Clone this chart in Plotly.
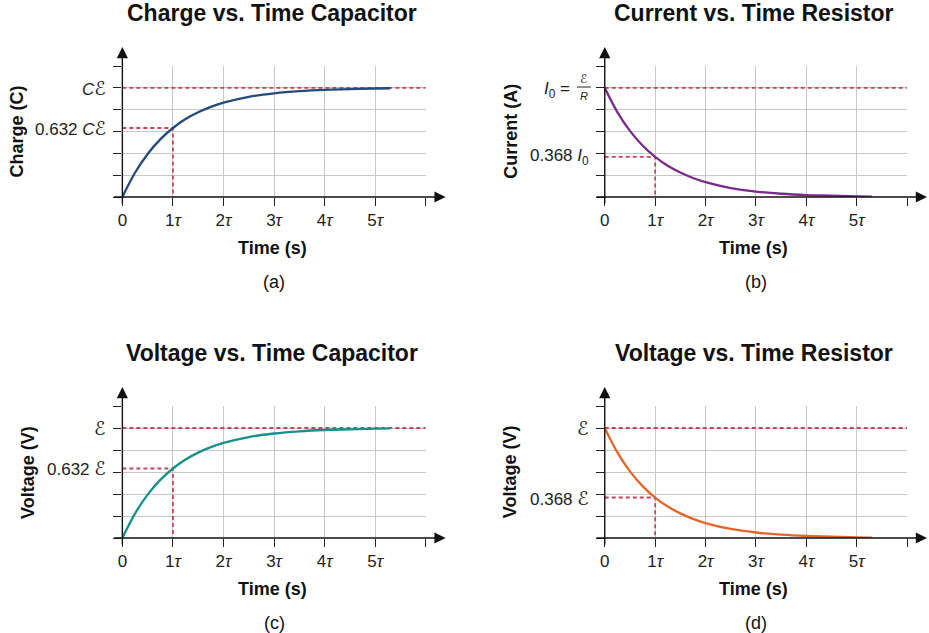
import plotly.graph_objects as go

W, H = 929, 633
FONT = "Liberation Sans, Arial, sans-serif"
RED = "#c94456"
EPS = "<span style='font-family:DejaVu Sans;font-size:19px'>ℰ</span>"
EPS_SMALL = "<span style='font-family:DejaVu Sans;font-size:12px'>ℰ</span>"

# time samples (units of tau)
t_vals = [0, 0.25, 0.5, 0.75, 1, 1.25, 1.5, 1.75, 2, 2.5, 3, 3.5, 4, 4.5, 5, 5.3]
# rising curve (capacitor), full level = 5 grid rows
rise_vals = [0, 1.11, 1.97, 2.64, 3.16, 3.57, 3.88, 4.13, 4.32, 4.59, 4.75, 4.85,
             4.91, 4.94, 4.97, 4.98]
# decaying curve (resistor)
decay_vals = [5, 3.89, 3.03, 2.36, 1.84, 1.43, 1.12, 0.87, 0.68, 0.41, 0.25, 0.15,
              0.09, 0.06, 0.03, 0.02]

full_level = 5.0
tau_mark = 1.0
rise_mark = 3.16   # 0.632 of full
decay_mark = 1.84  # 0.368 of full

tick_vals = [0, 1, 2, 3, 4, 5, 6]
tick_text = ["0", "1<i>τ</i>", "2<i>τ</i>", "3<i>τ</i>", "4<i>τ</i>", "5<i>τ</i>", ""]

panels = [
    dict(title="Charge vs. Time Capacitor", ytitle="Charge (C)", sub="(a)",
         box=(118, 423, 66, 197), ytx=12, color="#234a7a", vals=rise_vals,
         mark=rise_mark, top_lbl="<i>C</i>" + EPS, mark_lbl="0.632 <i>C</i>" + EPS),
    dict(title="Current vs. Time Resistor", ytitle="Current (A)", sub="(b)",
         box=(603, 907, 66, 197), ytx=508, color="#7b2a8c", vals=decay_vals,
         mark=decay_mark, top_lbl=None, mark_lbl="0.368 <i>I</i><sub>0</sub>"),
    dict(title="Voltage vs. Time Capacitor", ytitle="Voltage (V)", sub="(c)",
         box=(118, 423, 406, 538), ytx=23, color="#14918a", vals=rise_vals,
         mark=rise_mark, top_lbl=EPS, mark_lbl="0.632 " + EPS),
    dict(title="Voltage vs. Time Resistor", ytitle="Voltage (V)", sub="(d)",
         box=(603, 907, 406, 538), ytx=508, color="#e2662a", vals=decay_vals,
         mark=decay_mark, top_lbl=EPS, mark_lbl="0.368 " + EPS),
]


def px(x):
    return x / W


def py(y):
    return 1 - y / H


def label(text, x, y, size, **kw):
    return dict(text=text, x=px(x), y=py(y), xref="paper", yref="paper",
                xanchor="center", yanchor="middle", showarrow=False,
                font=dict(family=FONT, size=size, color="#111"), **kw)


fig = go.Figure()
annotations = []
shapes = []

for i, p in enumerate(panels):
    n = "" if i == 0 else str(i + 1)
    xa, ya = "x" + n, "y" + n
    x0, x1, y0, y1 = p["box"]
    mid = (x0 + x1) / 2

    axis_common = dict(
        range=[0, 6], tickvals=tick_vals, showgrid=True, gridcolor="#c8c8c8",
        gridwidth=1, zeroline=False, showline=False, ticks="outside",
        ticklen=8, tickwidth=1.3, tickcolor="#222", fixedrange=True,
    )
    fig.layout["xaxis" + n] = dict(
        axis_common, domain=[px(x0), px(x1)], anchor=ya, ticktext=tick_text,
        tickfont=dict(family=FONT, size=17, color="#222"),
    )
    fig.layout["yaxis" + n] = dict(
        axis_common, domain=[py(y1), py(y0)], anchor=xa, showticklabels=False,
    )

    # dashed reference lines
    dash = dict(color=RED, width=1.8, dash="4px,3px")
    fig.add_trace(go.Scatter(x=[tick_vals[0], tick_vals[-1]], y=[full_level, full_level],
                             mode="lines", line=dash, xaxis=xa, yaxis=ya,
                             showlegend=False, hoverinfo="skip"))
    fig.add_trace(go.Scatter(x=[0, tau_mark, tau_mark], y=[p["mark"], p["mark"], 0],
                             mode="lines", line=dash, xaxis=xa, yaxis=ya,
                             showlegend=False, hoverinfo="skip"))
    # curve
    fig.add_trace(go.Scatter(x=t_vals, y=p["vals"], mode="lines",
                             line=dict(color=p["color"], width=2.3, shape="spline"),
                             xaxis=xa, yaxis=ya, showlegend=False))

    annotations += [
        label("<b>" + p["title"] + "</b>", mid - 2, y0 - 53, 23),
        label("<b>Time (s)</b>", mid - 2, y1 + 51, 18),
        label(p["sub"], mid, y1 + 85, 18),
        label("<b>" + p["ytitle"] + "</b>", p["ytx"], (y0 + y1) / 2, 18, textangle=-90),
        # axis arrows
        dict(text="", x=px(x1 + 20), y=py(y1), xref="paper", yref="paper",
             ax=-(x1 + 20 - (x0 - 8)), ay=0, showarrow=True, arrowhead=2,
             arrowsize=1.6, arrowwidth=1.4, arrowcolor="#111", standoff=0),
        dict(text="", x=px(x0), y=py(y0 - 19), xref="paper", yref="paper",
             ax=0, ay=(y1 + 8) - (y0 - 19), showarrow=True, arrowhead=2,
             arrowsize=1.6, arrowwidth=1.4, arrowcolor="#111", standoff=0),
        # y value labels
        dict(text=p["mark_lbl"], x=0, y=p["mark"], xref=xa, yref=ya, xanchor="right",
             yanchor="middle", xshift=-14, showarrow=False,
             font=dict(family=FONT, size=17, color="#222")),
    ]
    if p["top_lbl"]:
        annotations.append(dict(text=p["top_lbl"], x=0, y=full_level, xref=xa, yref=ya,
                                xanchor="right", yanchor="middle", xshift=-14,
                                showarrow=False,
                                font=dict(family=FONT, size=17, color="#222")))
    else:
        # I0 = E/R label with a stacked fraction
        annotations += [
            dict(text="<i>I</i><sub>0</sub> =", x=0, y=full_level, xref=xa, yref=ya,
                 xanchor="right", yanchor="middle", xshift=-33, yshift=-2,
                 showarrow=False, font=dict(family=FONT, size=17, color="#222")),
            dict(text="<i>" + EPS_SMALL + "</i>", x=0, y=full_level, xref=xa, yref=ya,
                 xanchor="center", yanchor="middle", xshift=-21, yshift=9,
                 showarrow=False, font=dict(family=FONT, size=11, color="#222")),
            dict(text="<i>R</i>", x=0, y=full_level, xref=xa, yref=ya,
                 xanchor="center", yanchor="middle", xshift=-21, yshift=-8,
                 showarrow=False, font=dict(family=FONT, size=11, color="#222")),
        ]
        shapes.append(dict(type="line", xref="paper", yref="paper",
                           x0=px(x0 - 28), x1=px(x0 - 14), y0=py(y0 + 21), y1=py(y0 + 21),
                           line=dict(color="#222", width=1)))

fig.update_layout(
    width=W, height=H, margin=dict(l=0, r=0, t=0, b=0),
    paper_bgcolor="white", plot_bgcolor="white",
    annotations=annotations, shapes=shapes, showlegend=False,
    font=dict(family=FONT),
)

# drop the default page margin so the figure sits at the window's corner
fig.write_html("out.html", config={"displayModeBar": False},
               post_script="document.body.style.margin = '0px';")
